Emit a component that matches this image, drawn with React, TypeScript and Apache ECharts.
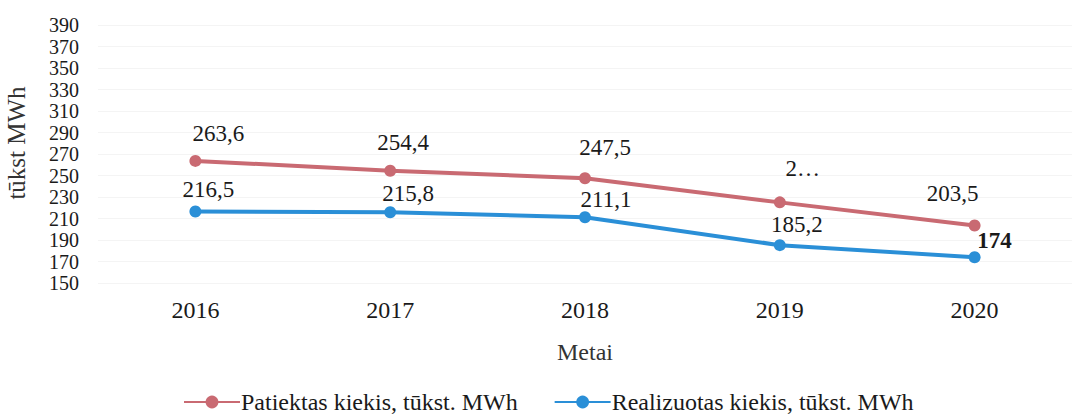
import React, { useEffect, useRef } from "react";
import * as echarts from "echarts";

const categories = ["2016", "2017", "2018", "2019", "2020"];
const suppliedValues = [263.6, 254.4, 247.5, 225, 203.5];
const soldValues = [216.5, 215.8, 211.1, 185.2, 174];
const suppliedName = "Patiektas kiekis, tūkst. MWh";
const soldName = "Realizuotas kiekis, tūkst. MWh";
const yMin = 150;
const yMax = 390;
const yStep = 20;

const FONT = "'Liberation Serif', 'Times New Roman', serif";
const RED = "#c96a72";
const BLUE = "#2a8fd7";

const fmt = (v: number) => String(v).replace(".", ",");

export default function App() {
  const ref = useRef<HTMLDivElement>(null);
  useEffect(() => {
    if (!ref.current) return;
    const chart = echarts.init(ref.current, undefined, { renderer: "svg" });
    const redOffsets = [[23, -27], [13, -28], [20, -31], [23, -34], [-22, -32]];
    const blueOffsets = [[13, -22], [18, -19], [21, -18], [17, -21], [20, -17]];
    chart.setOption({
      animation: false,
      backgroundColor: "#ffffff",
      textStyle: { fontFamily: FONT, color: "#1a1a1a" },
      grid: { left: 98, top: 25, width: 985, height: 258 },
      legend: {
        left: 178,
        top: 385,
        itemWidth: 56,
        itemHeight: 16,
        itemGap: 36,
        textStyle: { fontFamily: FONT, fontSize: 24, color: "#1a1a1a", padding: [0, 0, 0, -4] },
        data: [suppliedName, soldName],
      },
      graphic: [
        {
          type: "text",
          x: 16,
          y: 143,
          rotation: Math.PI / 2,
          style: {
            text: "tūkst MWh",
            fontFamily: FONT,
            fontSize: 25,
            fill: "#333",
            align: "center",
            verticalAlign: "middle",
          },
        },
      ],
      xAxis: {
        type: "category",
        data: categories,
        boundaryGap: true,
        axisLine: { show: false },
        axisTick: { show: false },
        axisLabel: { fontFamily: FONT, fontSize: 24, color: "#1a1a1a", margin: 15 },
        name: "Metai",
        nameLocation: "middle",
        nameGap: 57,
        nameTextStyle: { fontFamily: FONT, fontSize: 24, color: "#333" },
      },
      yAxis: {
        type: "value",
        min: yMin,
        max: yMax,
        interval: yStep,
        axisLine: { show: false },
        axisTick: { show: false },
        splitLine: { show: true, lineStyle: { color: "#f4f4f4", width: 1 } },
        axisLabel: {
          fontFamily: FONT,
          fontSize: 20,
          lineHeight: 19,
          color: "#1a1a1a",
          margin: 19,
        },
      },
      series: [
        {
          name: suppliedName,
          type: "line",
          data: suppliedValues.map((v, i) => ({
            value: v,
            label: { offset: redOffsets[i] },
          })),
          color: RED,
          lineStyle: { width: 4, color: RED },
          symbol: "circle",
          symbolSize: 12,
          itemStyle: { color: RED },
          label: {
            show: true,
            position: "inside",
            fontFamily: FONT,
            fontSize: 23,
            color: "#1a1a1a",
            formatter: (p: any) => (p.dataIndex === 3 ? "2…" : fmt(p.value)),
          },
        },
        {
          name: soldName,
          type: "line",
          data: soldValues.map((v, i) => ({
            value: v,
            label: i === 4
              ? { offset: blueOffsets[i], fontWeight: "bold" }
              : { offset: blueOffsets[i] },
          })),
          color: BLUE,
          lineStyle: { width: 4, color: BLUE },
          symbol: "circle",
          symbolSize: 12,
          itemStyle: { color: BLUE },
          label: {
            show: true,
            position: "inside",
            fontFamily: FONT,
            fontSize: 23,
            color: "#1a1a1a",
            formatter: (p: any) => fmt(p.value),
          },
        },
      ],
    });
    return () => chart.dispose();
  }, []);
  return (
    <div
      ref={ref}
      style={{ position: "fixed", left: 0, top: 0, width: 1072, height: 414 }}
    />
  );
}
